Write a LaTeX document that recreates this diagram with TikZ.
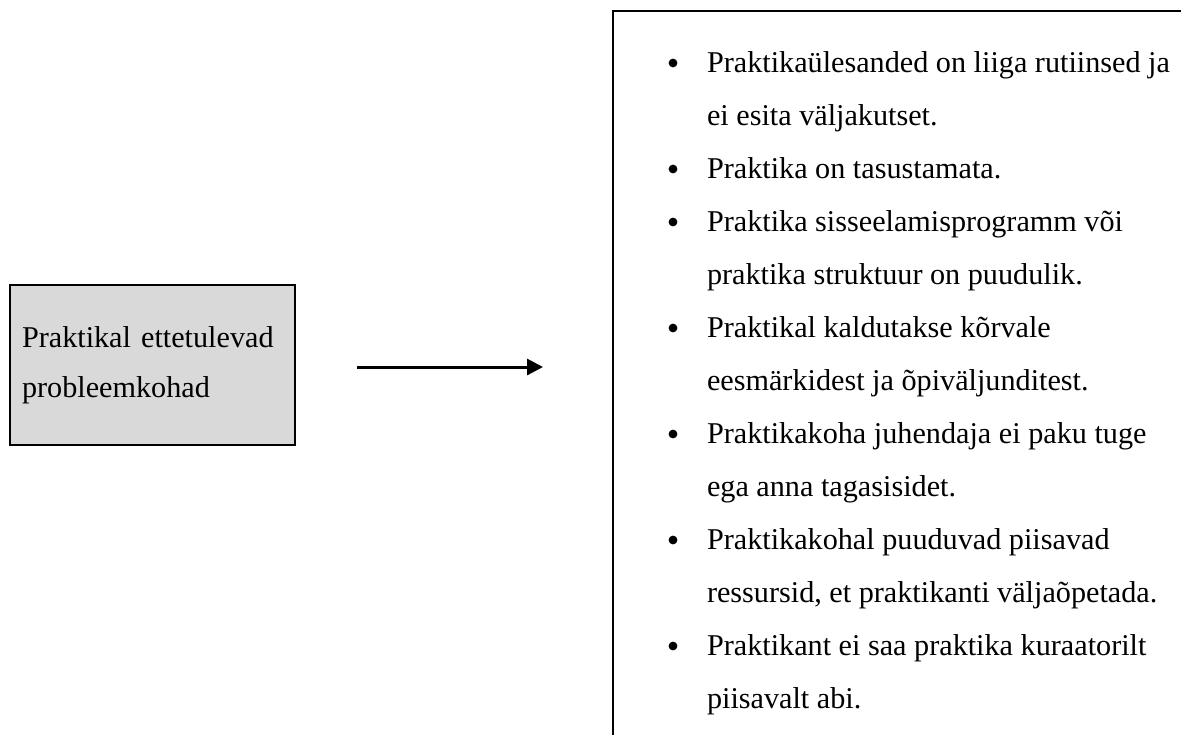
\documentclass[tikz,border=0pt]{standalone}
\usepackage{fontspec}
\setmainfont{Liberation Serif}
\usepackage{tikz}
\usetikzlibrary{positioning}
\usetikzlibrary{arrows.meta}

\begin{document}
\begin{tikzpicture}[x=0.5pt,y=-0.5pt,every node/.style={inner sep=0,outer sep=0,font=\fontsize{15.1}{25}\selectfont},
	dotmark/.style={circle,fill=black,minimum size=4.4pt}]
	\useasboundingbox (0,0) rectangle (1181,734);
	\node (prob) [draw,line width=1.3pt,fill=black!15,minimum height=80pt,text width=130.5pt,inner xsep=6pt,align=left] at (152.5,365) {Praktikal ettetulevad\\probleemkohad};
	\coordinate (lst) at (613,367);
	\draw[line width=1.3pt] (613,760) -- (613,11) -- (1200,11);
	\draw[-{Triangle[length=8pt,width=8pt]},line width=1.5pt,shorten <=31pt,shorten >=35pt] (prob.east |- lst) -- (lst);
	\foreach \t [count=\i] in {Praktikaülesanded on liiga rutiinsed ja,ei esita väljakutset.,Praktika on tasustamata.,Praktika sisseelamisprogramm või,praktika struktuur on puudulik.,Praktikal kaldutakse kõrvale,eesmärkidest ja õpiväljunditest.,Praktikakoha juhendaja ei paku tuge,ega anna tagasisidet.,Praktikakohal puuduvad piisavad,{ressursid, et praktikanti väljaõpetada.},Praktikant ei saa praktika kuraatorilt,piisavalt abi.}
		\node (l\i) [anchor=base west] at (707,{72+53*(\i-1)}) {\t};
	\foreach \i in {1,3,4,6,8,10,12}
		\node (b\i) [dotmark] at (673,{63+53*(\i-1)}) {};
\end{tikzpicture}
\end{document}
